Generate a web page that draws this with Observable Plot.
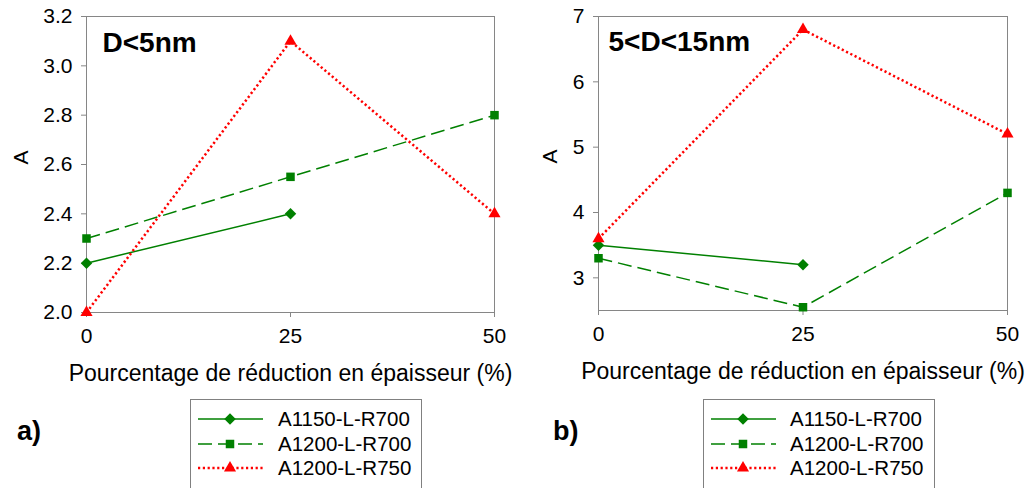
<!DOCTYPE html>
<html><head><meta charset="utf-8">
<script src="https://cdn.jsdelivr.net/npm/d3@7"></script>
<script src="https://cdn.jsdelivr.net/npm/@observablehq/plot@0.6"></script>
<style>
body{margin:0;background:#fff;}
#root{position:relative;width:1027px;height:488px;overflow:hidden;background:#fff;font-family:"Liberation Sans",Arial,sans-serif;}
.panel{position:absolute;top:0;}
#overlay{position:absolute;left:0;top:0;}
</style></head><body><div id="root"></div>
<script>
const xValues = [0, 25, 50];
const seriesNames = ["A1150-L-R700", "A1200-L-R700", "A1200-L-R750"];
const smallA1150 = [2.2, 2.4, null];
const smallA1200R700 = [2.3, 2.55, 2.8];
const smallA1200R750 = [2.0, 3.1, 2.4];
const midA1150 = [3.5, 3.2, null];
const midA1200R700 = [3.3, 2.55, 4.3];
const midA1200R750 = [3.6, 6.8, 5.2];
const yTicksSmall = [2.0, 2.2, 2.4, 2.6, 2.8, 3.0, 3.2];
const yTicksMid = [3, 4, 5, 6, 7];
const panelTitles = ["D<5nm", "5<D<15nm"];
const panelLetters = ["a)", "b)"];
const xLabel = "Pourcentage de réduction en épaisseur (%)";
const yLabel = "A";

const FONT = "Liberation Sans, Arial, sans-serif";
const colors = ["#008000", "#008000", "#ff0000"];
const dashes = [null, "14,6", "2.2,2.6"];
const widths = [1.5, 1.5, 2.5];
const symbols = ["diamond2", "square", "triangle"];
const radii = [5.2, 4.8, 4.5];
const d3symbols = [d3.symbolDiamond2, d3.symbolSquare, d3.symbolTriangle];
const axisColor = "#868686";

function rowsFor(seriesValues) {
  return seriesValues.map((vals, s) =>
    vals.map((v, i) => ({x: xValues[i], y: v, s: seriesNames[s]})).filter(d => d.y != null));
}

function panel(cfg) {
  const series = rowsFor(cfg.values);
  const marks = [
    Plot.frame({stroke: axisColor}),
    Plot.axisX({ticks: xValues, tickSize: 5, tickPadding: 11, stroke: axisColor, fill: "#000", fontSize: 21, label: null}),
    Plot.axisY({ticks: cfg.yTicks, tickSize: 5, tickPadding: 9, stroke: axisColor, fill: "#000", fontSize: 21, tickFormat: cfg.tickFormat, label: null})
  ];
  series.forEach((rows, s) => {
    marks.push(Plot.line(rows, {x: "x", y: "y", stroke: colors[s], strokeWidth: widths[s], strokeDasharray: dashes[s], strokeLinecap: "butt", strokeLinejoin: "miter"}));
  });
  series.forEach((rows, s) => {
    marks.push(Plot.dot(rows, {x: "x", y: "y", symbol: symbols[s], r: radii[s], fill: colors[s], stroke: "none"}));
  });
  marks.push(
    Plot.text([cfg.title], {text: d => d, frameAnchor: "top-left", dx: cfg.titleDx, dy: cfg.titleDy, fontWeight: "bold", fontSize: 28, textAnchor: "start", lineAnchor: "middle", fill: "#000"}),
    Plot.text([xLabel], {text: d => d, frameAnchor: "bottom", dy: 61, fontSize: 23, lineAnchor: "middle", fill: "#000"}),
    Plot.text([yLabel], {text: d => d, frameAnchor: "left", dx: cfg.yLabelDx, rotate: -90, fontSize: 21, lineAnchor: "middle", fill: "#000"})
  );
  const chart = Plot.plot({
    width: 514, height: 400,
    marginLeft: cfg.marginLeft, marginRight: cfg.marginRight, marginTop: 16, marginBottom: cfg.marginBottom,
    style: {fontFamily: FONT, fontSize: "21px", color: "#000", background: "transparent", overflow: "visible"},
    x: {domain: [0, 50]},
    y: {domain: cfg.yDomain},
    marks
  });
  const div = document.createElement("div");
  div.className = "panel";
  div.style.left = cfg.left + "px";
  div.appendChild(chart);
  document.getElementById("root").appendChild(div);
}

panel({left: 0, marginLeft: 86, marginRight: 20, marginBottom: 88, yDomain: [2.0, 3.2], yTicks: yTicksSmall,
  tickFormat: d3.format(".1f"), values: [smallA1150, smallA1200R700, smallA1200R750],
  title: panelTitles[0], titleDx: 16, titleDy: 27, yLabelDx: -65});
panel({left: 513, marginLeft: 85, marginRight: 20, marginBottom: 90, yDomain: [2.5, 7], yTicks: yTicksMid,
  tickFormat: d3.format("d"), values: [midA1150, midA1200R700, midA1200R750],
  title: panelTitles[1], titleDx: 10, titleDy: 26, yLabelDx: -48});

// legends and panel letters
const svg = d3.select("#root").append("svg").attr("id", "overlay")
  .attr("width", 1027).attr("height", 488).style("font-family", FONT);
const legends = [
  {box: [190, 399, 231], line: [198, 263], mark: 230, text: 278, letter: panelLetters[0], letterX: 17},
  {box: [703, 399, 231], line: [711, 776], mark: 743, text: 790, letter: panelLetters[1], letterX: 553}
];
const rowY = [419, 444, 468];
legends.forEach(L => {
  svg.append("rect").attr("x", L.box[0] + 0.5).attr("y", L.box[1] + 0.5).attr("width", L.box[2]).attr("height", 120)
    .attr("fill", "none").attr("stroke", "#808080").attr("stroke-width", 1);
  seriesNames.forEach((name, s) => {
    svg.append("line").attr("x1", L.line[0]).attr("x2", L.line[1]).attr("y1", rowY[s]).attr("y2", rowY[s])
      .attr("stroke", colors[s]).attr("stroke-width", widths[s]).attr("stroke-dasharray", dashes[s]);
    svg.append("path").attr("d", d3.symbol(d3symbols[s], Math.PI * radii[s] * radii[s])())
      .attr("transform", `translate(${L.mark},${rowY[s]})`).attr("fill", colors[s]);
    svg.append("text").attr("x", L.text).attr("y", rowY[s]).attr("dy", "0.36em").attr("font-size", 20.5)
      .attr("fill", "#000").text(name);
  });
  svg.append("text").attr("x", L.letterX).attr("y", 430).attr("dy", "0.36em").attr("font-size", 27)
    .attr("font-weight", "bold").attr("fill", "#000").text(L.letter);
});
</script></body></html>
